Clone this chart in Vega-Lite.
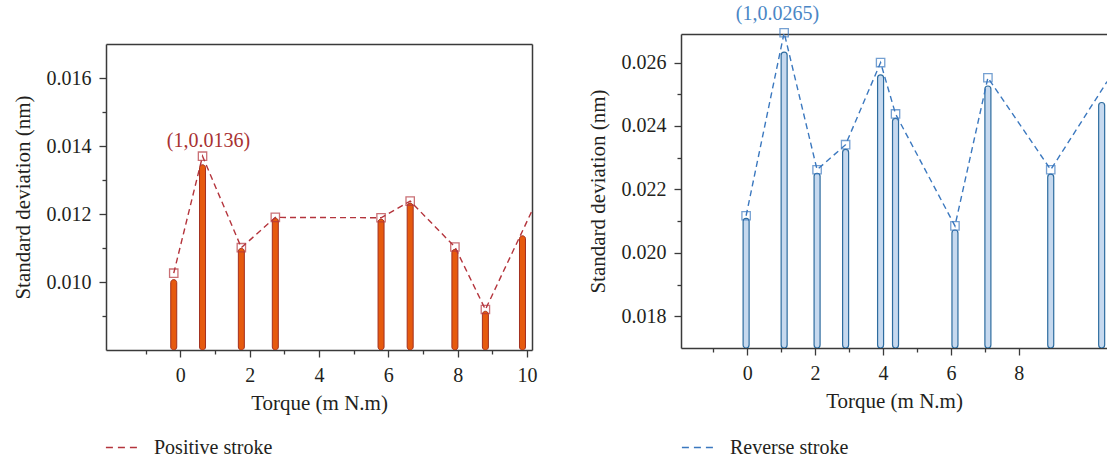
{
  "$schema": "https://vega.github.io/schema/vega-lite/v6.json",
  "padding": {"left": 12, "top": 3, "right": 0, "bottom": 0},
  "background": "white",
  "datasets": {
    "pos": [
      {"torque": -0.19, "bar": 0.01007, "marker": 0.01026, "series": "Positive stroke"},
      {"torque": 0.64, "bar": 0.01345, "marker": 0.0137, "series": "Positive stroke"},
      {"torque": 1.76, "bar": 0.01099, "marker": 0.01101, "series": "Positive stroke"},
      {"torque": 2.74, "bar": 0.01188, "marker": 0.0119, "series": "Positive stroke"},
      {"torque": 5.79, "bar": 0.01185, "marker": 0.01189, "series": "Positive stroke"},
      {"torque": 6.63, "bar": 0.01232, "marker": 0.01238, "series": "Positive stroke"},
      {"torque": 7.92, "bar": 0.01096, "marker": 0.01103, "series": "Positive stroke"},
      {"torque": 8.8, "bar": 0.00914, "marker": 0.00919, "series": "Positive stroke"},
      {"torque": 9.87, "bar": 0.01136, "marker": null, "series": "Positive stroke"},
      {"torque": 10.3, "bar": null, "marker": 0.01243, "series": "Positive stroke"}
    ],
    "rev": [
      {"torque": -0.03, "bar": 0.02109, "marker": 0.02117, "series": "Reverse stroke"},
      {"torque": 1.09, "bar": 0.02633, "marker": 0.02694, "series": "Reverse stroke"},
      {"torque": 2.06, "bar": 0.02251, "marker": 0.02262, "series": "Reverse stroke"},
      {"torque": 2.9, "bar": 0.02326, "marker": 0.02341, "series": "Reverse stroke"},
      {"torque": 3.93, "bar": 0.02561, "marker": 0.026, "series": "Reverse stroke"},
      {"torque": 4.37, "bar": 0.02424, "marker": 0.02438, "series": "Reverse stroke"},
      {"torque": 6.12, "bar": 0.02072, "marker": 0.02085, "series": "Reverse stroke"},
      {"torque": 7.09, "bar": 0.02526, "marker": 0.02552, "series": "Reverse stroke"},
      {"torque": 8.94, "bar": 0.02248, "marker": 0.02262, "series": "Reverse stroke"},
      {"torque": 10.44, "bar": 0.02474, "marker": null, "series": "Reverse stroke"},
      {"torque": 10.6, "bar": null, "marker": 0.0254, "series": "Reverse stroke"}
    ],
    "posNote": [{"torque": 0.81, "value": 0.01416, "label": "(1,0.0136)"}],
    "revNote": [{"torque": 0.895, "value": 0.02754, "label": "(1,0.0265)"}]
  },
  "config": {
    "view": {"stroke": null},
    "font": "Liberation Serif",
    "axis": {
      "grid": false,
      "labelFont": "Liberation Serif",
      "labelFontSize": 20,
      "labelColor": "#231f20",
      "titleFont": "Liberation Serif",
      "titleFontSize": 21,
      "titleFontWeight": "normal",
      "titleColor": "#231f20",
      "domainColor": "#3a3a3a",
      "domainWidth": 1.5,
      "tickColor": "#3a3a3a",
      "tickWidth": 1.3,
      "labelPadding": 8,
      "labelFlush": false,
      "labelOverlap": false
    },
    "legend": {
      "orient": "none",
      "legendY": 396,
      "symbolType": "stroke",
      "symbolSize": 1100,
      "symbolStrokeWidth": 1.5,
      "symbolDash": [7, 5],
      "labelFont": "Liberation Serif",
      "labelFontSize": 20,
      "labelColor": "#231f20",
      "labelOffset": 14,
      "title": null
    }
  },
  "bounds": "flush",
  "spacing": 149,
  "resolve": {"scale": {"color": "independent"}, "legend": {"color": "independent"}},
  "hconcat": [
    {
      "width": 426,
      "height": 316,
      "data": {"name": "pos"},
      "layer": [
        {
          "transform": [{"filter": "isValid(datum.bar)"}],
          "mark": {"type": "bar", "width": 6, "cornerRadius": 3, "fill": "#e65a0e", "stroke": "#a3301f", "strokeWidth": 1, "clip": true},
          "encoding": {
            "x": {"field": "torque", "type": "quantitative",
              "scale": {"domain": [-2, 10], "nice": false, "zero": false},
              "axis": {"title": "Torque (m N.m)", "values": [-1, 0, 1, 2, 3, 4, 5, 6, 7, 8, 9, 10],
                "labelExpr": "datum.value % 2 === 0 ? datum.label : ''",
                "tickSize": {"expr": "datum.value % 2 === 0 ? 7 : 4"},
                "titlePadding": 7}},
            "y": {"field": "bar", "type": "quantitative",
              "scale": {"domain": [0.008, 0.017], "range": [316, 10], "nice": false, "zero": false},
              "axis": {"title": "Standard deviation (nm)", "values": [0.009, 0.01, 0.011, 0.012, 0.013, 0.014, 0.015, 0.016],
                "format": ".3f",
                "labelExpr": "round(datum.value * 1000) % 2 === 0 ? datum.label : ''",
                "tickSize": {"expr": "round(datum.value * 1000) % 2 === 0 ? 7 : 4"},
                "titlePadding": 13}},
            "y2": {"datum": 0.008}
          }
        },
        {
          "transform": [{"filter": "isValid(datum.marker)"}],
          "mark": {"type": "line", "strokeDash": [6, 4], "strokeWidth": 1.4, "clip": true},
          "encoding": {
            "x": {"field": "torque", "type": "quantitative", "axis": null},
            "y": {"field": "marker", "type": "quantitative", "axis": null},
            "color": {"field": "series", "type": "nominal",
              "scale": {"range": ["#b4343c"]},
              "legend": {"legendX": -1}}
          }
        },
        {
          "transform": [{"filter": "isValid(datum.marker) && isValid(datum.bar)"}],
          "mark": {"type": "point", "shape": "square", "filled": false, "size": 70, "stroke": "#b4343c", "strokeWidth": 1.3},
          "encoding": {
            "x": {"field": "torque", "type": "quantitative", "axis": null},
            "y": {"field": "marker", "type": "quantitative", "axis": null}
          }
        },
        {
          "data": {"name": "posNote"},
          "mark": {"type": "text", "fontSize": 20, "font": "Liberation Serif", "color": "#a83232", "baseline": "middle", "align": "center"},
          "encoding": {
            "x": {"field": "torque", "type": "quantitative", "axis": null},
            "y": {"field": "value", "type": "quantitative", "axis": null},
            "text": {"field": "label"}
          }
        },
        {
          "transform": [{"filter": "isValid(datum.marker) && isValid(datum.bar)"}],
          "mark": {"type": "point", "opacity": 0},
          "encoding": {
            "x": {"field": "torque", "type": "quantitative",
              "axis": {"orient": "top", "labels": false, "ticks": false, "title": null, "offset": -10}},
            "y": {"field": "marker", "type": "quantitative",
              "axis": {"orient": "right", "labels": false, "ticks": false, "title": null}}
          }
        }
      ],
      "resolve": {"axis": {"x": "independent", "y": "independent"}}
    },
    {
      "width": 426,
      "height": 314,
      "data": {"name": "rev"},
      "layer": [
        {
          "transform": [{"filter": "isValid(datum.bar)"}],
          "mark": {"type": "bar", "width": 6, "cornerRadius": 3, "fill": "#c6d9ef", "stroke": "#2e6c9f", "strokeWidth": 1.2, "clip": true},
          "encoding": {
            "x": {"field": "torque", "type": "quantitative",
              "scale": {"domain": [-1.8, 10.45], "nice": false, "zero": false},
              "axis": {"title": "Torque (m N.m)", "values": [-1, 0, 1, 2, 3, 4, 5, 6, 7, 8],
                "labelExpr": "datum.value % 2 === 0 ? datum.label : ''",
                "tickSize": {"expr": "datum.value % 2 === 0 ? 7 : 4"},
                "titlePadding": 7}},
            "y": {"field": "bar", "type": "quantitative",
              "scale": {"domain": [0.017, 0.0269], "nice": false, "zero": false},
              "axis": {"title": "Standard deviation (nm)", "values": [0.018, 0.019, 0.02, 0.021, 0.022, 0.023, 0.024, 0.025, 0.026],
                "format": ".3f",
                "labelExpr": "round(datum.value * 1000) % 2 === 0 ? datum.label : ''",
                "tickSize": {"expr": "round(datum.value * 1000) % 2 === 0 ? 7 : 4"},
                "titlePadding": 13}},
            "y2": {"datum": 0.017}
          }
        },
        {
          "transform": [{"filter": "isValid(datum.marker)"}],
          "mark": {"type": "line", "strokeDash": [6, 4], "strokeWidth": 1.4, "clip": true},
          "encoding": {
            "x": {"field": "torque", "type": "quantitative", "axis": null},
            "y": {"field": "marker", "type": "quantitative", "axis": null},
            "color": {"field": "series", "type": "nominal",
              "scale": {"range": ["#3b78bf"]},
              "legend": {"legendX": 0}}
          }
        },
        {
          "transform": [{"filter": "isValid(datum.marker) && isValid(datum.bar)"}],
          "mark": {"type": "point", "shape": "square", "filled": false, "size": 70, "stroke": "#3b78bf", "strokeWidth": 1.3},
          "encoding": {
            "x": {"field": "torque", "type": "quantitative", "axis": null},
            "y": {"field": "marker", "type": "quantitative", "axis": null}
          }
        },
        {
          "data": {"name": "revNote"},
          "mark": {"type": "text", "fontSize": 20, "font": "Liberation Serif", "color": "#4a86c5", "baseline": "middle", "align": "center"},
          "encoding": {
            "x": {"field": "torque", "type": "quantitative", "axis": null},
            "y": {"field": "value", "type": "quantitative", "axis": null},
            "text": {"field": "label"}
          }
        },
        {
          "transform": [{"filter": "isValid(datum.marker) && isValid(datum.bar)"}],
          "mark": {"type": "point", "opacity": 0},
          "encoding": {
            "x": {"field": "torque", "type": "quantitative",
              "axis": {"orient": "top", "labels": false, "ticks": false, "title": null}},
            "y": {"field": "marker", "type": "quantitative", "axis": null}
          }
        }
      ],
      "resolve": {"axis": {"x": "independent", "y": "independent"}}
    }
  ]
}
